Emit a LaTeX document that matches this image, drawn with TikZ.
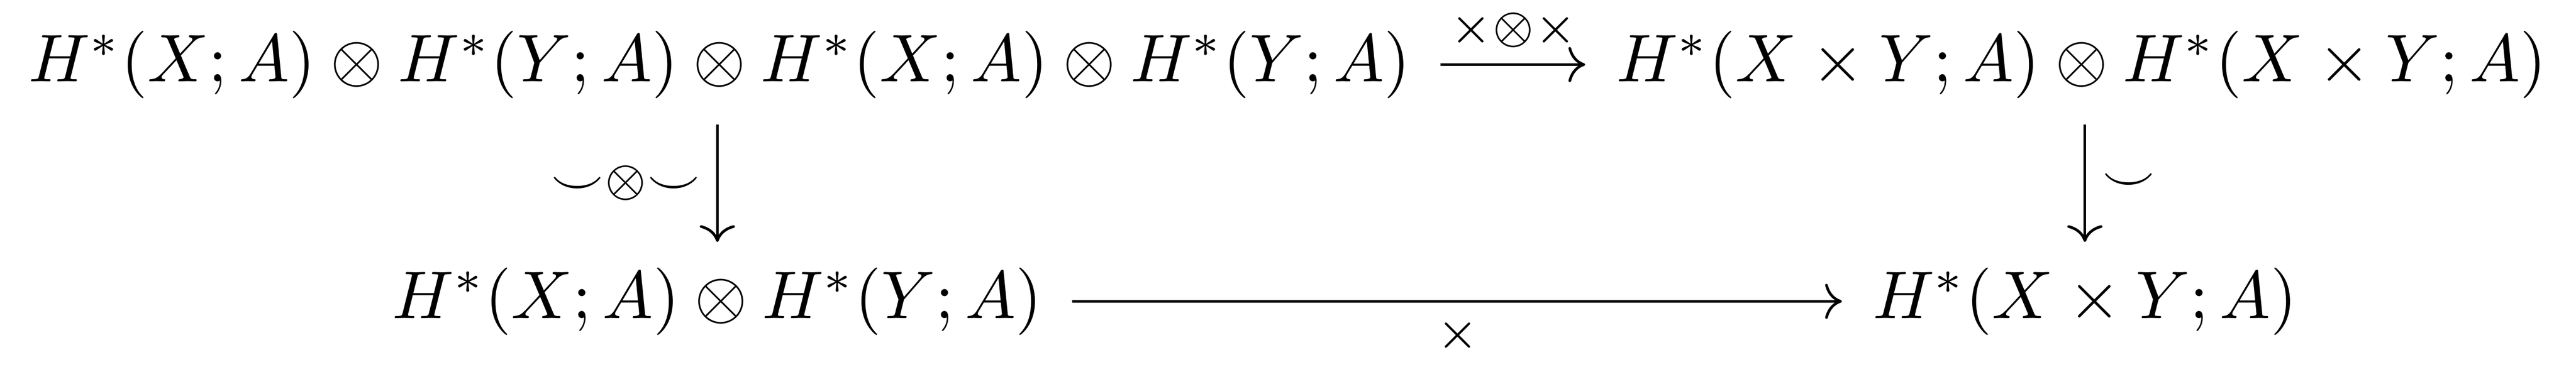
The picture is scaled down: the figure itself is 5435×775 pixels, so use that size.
\documentclass[tikz,border=0pt]{standalone}
\usetikzlibrary{cd}
\begin{document}
\begin{tikzpicture}[x=0.070175pt,y=-0.070175pt,
  obj/.style={inner sep=0pt,outer sep=0pt},
  cdarrow/.style={-{cm to},line width=0.4pt},
  harrow/.style={cdarrow,shorten <=4.4pt,shorten >=4.6pt},
  varrow/.style={cdarrow,shorten <=3.9pt,shorten >=3.8pt},
  lbl/.style={inner sep=2.5pt,outer sep=0pt}]
\useasboundingbox (0,0) rectangle (5435,775);
\node[obj,anchor=base west] (TL) at (60,172)
  {$H^*(X;A)\otimes H^*(Y;A)\otimes H^*(X;A)\otimes H^*(Y;A)$};
\node[obj,anchor=base east] (TR) at (5373,172)
  {$H^*(X\times Y;A)\otimes H^*(X\times Y;A)$};
\node[obj,anchor=base west] (BL) at (828,672)
  {$H^*(X;A)\otimes H^*(Y;A)$};
\node[obj,anchor=base east] (BR) at (4846,672)
  {$H^*(X\times Y;A)$};
\draw[harrow] (TL.east) -- node[lbl,above] (l1) {$\scriptstyle\times\otimes\times$} (TR.west);
\draw[harrow] (BL.east) -- node[lbl,below] (l2) {$\scriptstyle\times$} (BR.west);
\draw[varrow] (TL.south -| BL.north) -- node[lbl,left] (l3) {$\scriptstyle\smile\otimes\smile$} (BL.north);
\draw[varrow] (TR.south -| BR.north) -- node[lbl,right] (l4) {$\scriptstyle\smile$} (BR.north);
\end{tikzpicture}
\end{document}
